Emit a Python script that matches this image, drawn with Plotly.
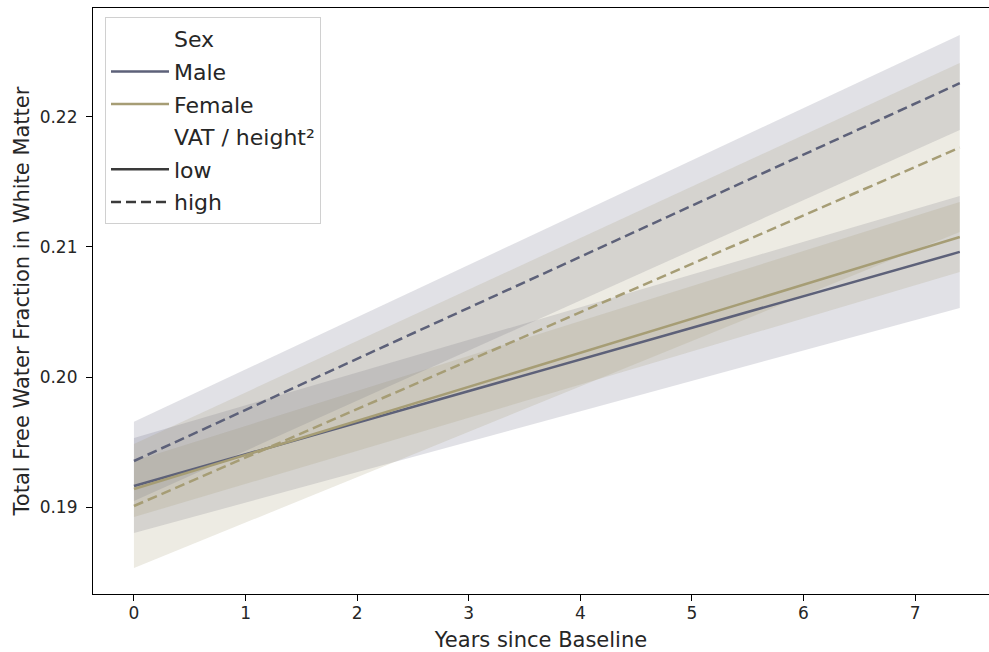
import plotly.graph_objects as go

# ---- data ----
years = [0.0, 7.4]

male_low_mean = [0.19162, 0.20962]
male_low_lower = [0.18800, 0.20531]
male_low_upper = [0.19531, 0.21392]

female_low_mean = [0.19138, 0.21077]
female_low_lower = [0.18923, 0.20808]
female_low_upper = [0.19354, 0.21346]

male_high_mean = [0.19354, 0.22260]
male_high_lower = [0.19046, 0.21900]
male_high_upper = [0.19656, 0.22631]

female_high_mean = [0.19008, 0.21764]
female_high_lower = [0.18531, 0.21115]
female_high_upper = [0.19485, 0.22415]

sex_labels = ["Male", "Female"]
vat_labels = ["low", "high"]

MALE = "#5d6179"
FEMALE = "#a69d75"
MALE_FILL = "rgba(93,97,121,0.19)"
FEMALE_FILL = "rgba(166,157,117,0.2)"
DASH = "10px,5px"

fig = go.Figure()

series = [
    (male_low_mean, male_low_lower, male_low_upper, MALE, MALE_FILL, "solid"),
    (female_low_mean, female_low_lower, female_low_upper, FEMALE, FEMALE_FILL, "solid"),
    (male_high_mean, male_high_lower, male_high_upper, MALE, MALE_FILL, DASH),
    (female_high_mean, female_high_lower, female_high_upper, FEMALE, FEMALE_FILL, DASH),
]

for mean, lo, hi, col, fillc, dash in series:
    fig.add_trace(go.Scatter(
        x=years + years[::-1], y=lo + hi[::-1],
        fill="toself", fillcolor=fillc, line=dict(width=0),
        mode="lines", hoverinfo="skip", showlegend=False))

for mean, lo, hi, col, fillc, dash in series:
    fig.add_trace(go.Scatter(
        x=years, y=mean, mode="lines",
        line=dict(color=col, width=2.5, dash=dash), showlegend=False))

# legend entries (matplotlib-style, with sub-headers)
legend_items = [
    ("Sex", "rgba(0,0,0,0)", "solid"),
    (sex_labels[0], MALE, "solid"),
    (sex_labels[1], FEMALE, "solid"),
    ("VAT / height²", "rgba(0,0,0,0)", "solid"),
    (vat_labels[0], "#3a3a3a", "solid"),
    (vat_labels[1], "#3a3a3a", DASH),
]
for i, (name, col, dash) in enumerate(legend_items):
    fig.add_trace(go.Scatter(
        x=[None], y=[None], mode="lines", name=name, legendgroup=f"g{i}",
        line=dict(color=col, width=2.5, dash=dash)))

fig.update_layout(
    width=989, height=652,
    margin=dict(l=93, r=0, t=8, b=58),
    paper_bgcolor="white", plot_bgcolor="white",
    font=dict(family="DejaVu Sans", color="#262626"),
    showlegend=True,
    legend=dict(
        x=0.0134, y=0.9845, xanchor="left", yanchor="top",
        bgcolor="rgba(255,255,255,0.8)", bordercolor="#d0d0d0", borderwidth=1,
        font=dict(size=22, family="DejaVu Sans", color="#262626"),
        traceorder="grouped", tracegroupgap=1, itemwidth=58,
    ),
    xaxis=dict(
        range=[-0.367, 7.662], tickmode="linear", tick0=0, dtick=1,
        showgrid=False, zeroline=False,
        showline=True, linecolor="black", linewidth=1.2, mirror=True,
        ticks="outside", ticklen=6, tickcolor="black",
        tickfont=dict(size=17), ticklabelstandoff=-3,
        title=dict(text="Years since Baseline", font=dict(size=21), standoff=11),
    ),
    yaxis=dict(
        range=[0.18331, 0.22838], tickmode="linear", tick0=0.19, dtick=0.01,
        tickformat=".2f",
        showgrid=False, zeroline=False,
        showline=True, linecolor="black", linewidth=1.2, mirror=False,
        ticks="outside", ticklen=6, tickcolor="black",
        tickfont=dict(size=17), ticklabelstandoff=5,
        title=dict(text="Total Free Water Fraction in White Matter", font=dict(size=21), standoff=4),
    ),
)

fig.write_html("out.html")
